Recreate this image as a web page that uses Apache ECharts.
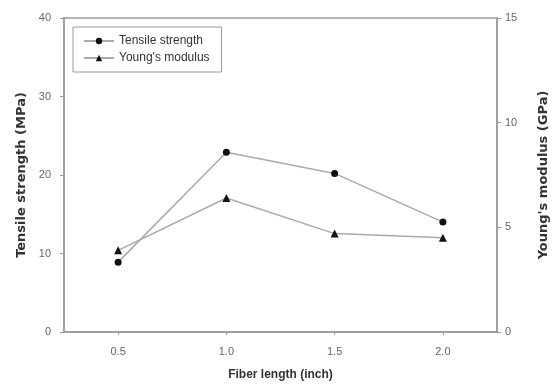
<!DOCTYPE html>
<html>
<head>
<meta charset="utf-8">
<script src="https://cdn.jsdelivr.net/npm/echarts@6/dist/echarts.min.js"></script>
<style>
  html, body { margin: 0; padding: 0; background: #fff; }
  #chart { width: 558px; height: 386px; }
</style>
</head>
<body>
<div id="chart"></div>
<script>
// fiber length (inch)
const fiberLength = [0.5, 1.0, 1.5, 2.0];
const tensileStrength = [8.9, 22.9, 20.2, 14.0];   // MPa
const youngsModulus = [3.9, 6.4, 4.7, 4.5];        // GPa
const xTicks = [0.5, 1.0, 1.5, 2.0];

const axisGray = '#9a9a9a';
const labelGray = '#666';

// the side titles look stretched in the original, a wider face fits them better
const sideTitle = { fontFamily: 'DejaVu Sans', fontWeight: 'bold', fontSize: 13, color: '#333' };

const chart = echarts.init(document.getElementById('chart'));

chart.setOption({
  animation: false,
  grid: {
    left: 64, right: 58, top: 18, bottom: 53,
    show: true, borderColor: axisGray, borderWidth: 1.5
  },
  legend: {
    left: 73, top: 27,
    orient: 'vertical',
    itemGap: 5,
    itemWidth: 30, itemHeight: 8,
    padding: [8, 12, 8, 10],
    borderColor: '#999', borderWidth: 1,
    textStyle: { fontFamily: 'Liberation Sans', fontSize: 12, color: '#333' },
    data: ['Tensile strength', "Young's modulus"]
  },
  xAxis: {
    type: 'value',
    min: 0.25, max: 2.25,
    name: 'Fiber length (inch)',
    nameLocation: 'middle', nameGap: 37,
    nameTextStyle: { fontFamily: 'Liberation Sans', fontWeight: 'bold', fontSize: 12, color: '#333' },
    axisLine: { lineStyle: { color: axisGray, width: 1.5 } },
    axisTick: { show: true, customValues: xTicks, length: 3, lineStyle: { color: axisGray } },
    axisLabel: {
      customValues: xTicks, margin: 14,
      formatter: v => v.toFixed(1),
      fontFamily: 'Liberation Sans', fontSize: 11, color: labelGray
    },
    splitLine: { show: false }
  },
  yAxis: [{
    type: 'value', min: 0, max: 40, interval: 10,
    name: 'Tensile strength (MPa)',
    nameLocation: 'middle', nameGap: 35,
    nameTextStyle: sideTitle,
    axisLine: { show: true, lineStyle: { color: axisGray, width: 1.5 } },
    axisTick: { show: true, length: 4, lineStyle: { color: axisGray } },
    axisLabel: { margin: 13, fontFamily: 'Liberation Sans', fontSize: 11, color: labelGray },
    splitLine: { show: false }
  }, {
    type: 'value', min: 0, max: 15, interval: 5,
    position: 'right',
    name: "Young's modulus (GPa)",
    nameLocation: 'middle', nameGap: 40, nameRotate: 90,
    nameTextStyle: sideTitle,
    axisLine: { show: true, lineStyle: { color: axisGray, width: 1.5 } },
    axisTick: { show: true, length: 4, lineStyle: { color: axisGray } },
    axisLabel: { margin: 8, fontFamily: 'Liberation Sans', fontSize: 11, color: labelGray },
    splitLine: { show: false }
  }],
  series: [{
    name: 'Tensile strength',
    type: 'line',
    yAxisIndex: 0,
    symbol: 'circle', symbolSize: 7,
    itemStyle: { color: '#111' },
    lineStyle: { color: '#aaa', width: 1.5 },
    data: fiberLength.map((x, i) => [x, tensileStrength[i]])
  }, {
    name: "Young's modulus",
    type: 'line',
    yAxisIndex: 1,
    symbol: 'triangle', symbolSize: 8,
    itemStyle: { color: '#111' },
    lineStyle: { color: '#aaa', width: 1.5 },
    data: fiberLength.map((x, i) => [x, youngsModulus[i]])
  }]
});
</script>
</body>
</html>
